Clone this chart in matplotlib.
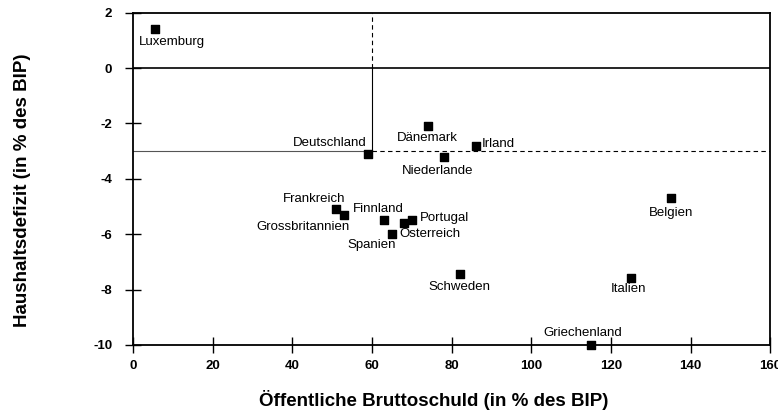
import matplotlib.pyplot as plt

plt.rcParams['font.family'] = ['Liberation Sans', 'DejaVu Sans']
plt.rcParams['axes.unicode_minus'] = False

# Daten
laender = ['Luxemburg', 'Deutschland', 'Dänemark', 'Irland', 'Niederlande',
           'Frankreich', 'Grossbritannien', 'Finnland', 'Portugal',
           'Österreich', 'Spanien', 'Belgien', 'Schweden', 'Italien',
           'Griechenland']
schuld = [5.5, 59, 74, 86, 78, 51, 53, 63, 70, 68, 65, 135, 82, 125, 115]
defizit = [1.4, -3.1, -2.1, -2.8, -3.2, -5.1, -5.3, -5.5, -5.5, -5.6, -6.0,
           -4.7, -7.45, -7.6, -10.0]

x_ticks = [0, 20, 40, 60, 80, 100, 120, 140, 160]
y_ticks = [2, 0, -2, -4, -6, -8, -10]

# Maastricht-Kriterien
grenze_schuld = 60
grenze_defizit = -3

# Beschriftungen: Versatz in Pixeln (dx, dy), Ausrichtung
label_pos = {
    'Luxemburg': (17, -13, 'center'),
    'Deutschland': (-38, 11, 'center'),
    'Dänemark': (0, -12, 'center'),
    'Irland': (6, 2, 'left'),
    'Niederlande': (-6, -14, 'center'),
    'Frankreich': (-22, 10, 'center'),
    'Grossbritannien': (-41, -12, 'center'),
    'Finnland': (-6, 11, 'center'),
    'Portugal': (8, 2, 'left'),
    'Österreich': (-4, -11, 'left'),
    'Spanien': (-20, -11, 'center'),
    'Belgien': (0, -15, 'center'),
    'Schweden': (0, -13, 'center'),
    'Italien': (-2, -11, 'center'),
    'Griechenland': (-8, 12, 'center'),
}

fig = plt.figure(figsize=(7.78, 4.13), dpi=100)
ax = fig.add_axes([0.171, 0.165, 0.819, 0.804])

# Referenzlinien
ax.axhline(0, color='black', lw=1.2)
ax.plot([grenze_schuld, grenze_schuld], [0, 2], color='black', lw=0.8,
        ls=(0, (4, 3)))
ax.plot([grenze_schuld, grenze_schuld], [grenze_defizit, 0], color='black', lw=0.8)
ax.plot([0, grenze_schuld], [grenze_defizit, grenze_defizit], color='#555555', lw=0.8)
ax.plot([grenze_schuld, 160], [grenze_defizit, grenze_defizit], color='black', lw=0.8,
        ls=(0, (4, 3)))

ax.scatter(schuld, defizit, marker='s', s=36, color='black', zorder=5, clip_on=False)

for name, x, y in zip(laender, schuld, defizit):
    dx, dy, ha = label_pos[name]
    ax.annotate(name, (x, y), xytext=(dx, dy), textcoords='offset pixels',
                ha=ha, va='center', fontsize=9.5)

ax.set_xlim(0, 160)
ax.set_ylim(-10, 2)
ax.set_xticks(x_ticks)
ax.set_yticks(y_ticks)
ax.tick_params(direction='inout', length=12, width=1, labelsize=9.5)
ax.tick_params(axis='y', pad=9)
ax.tick_params(axis='x', pad=5)
for lbl in ax.get_xticklabels() + ax.get_yticklabels():
    lbl.set_fontweight('bold')
for sp in ax.spines.values():
    sp.set_linewidth(1.3)

ax.set_xlabel('Öffentliche Bruttoschuld (in % des BIP)', fontsize=13.5,
              fontweight='bold', va='center')
ax.set_ylabel('Haushaltsdefizit (in % des BIP)', fontsize=13.5,
              fontweight='bold', va='center')
ax.xaxis.set_label_coords(0.4725, -0.166)
ax.yaxis.set_label_coords(-0.174, 0.467)

fig.savefig('out.png', dpi=100)
